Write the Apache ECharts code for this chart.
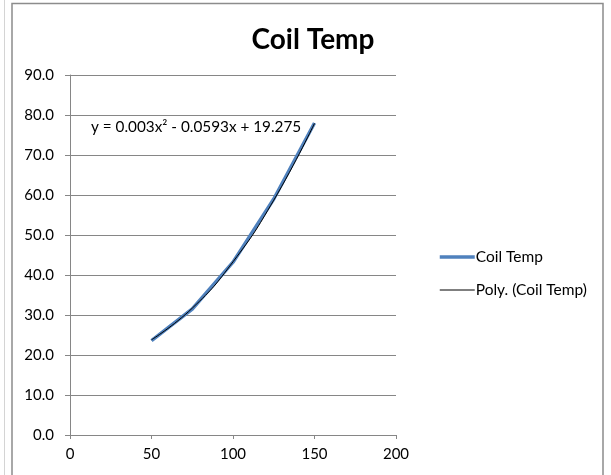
<!DOCTYPE html>
<html>
<head>
<meta charset="utf-8">
<script src="https://cdn.jsdelivr.net/npm/echarts@6/dist/echarts.min.js"></script>
<style>
html,body{margin:0;padding:0;background:#fff;}
#chart{width:611px;height:475px;}
</style>
</head>
<body>
<div id="chart"></div>
<script>
var titleText = 'Coil Temp';
var seriesName = 'Coil Temp';
var trendName = 'Poly. (Coil Temp)';
var equationText = 'y = 0.003x\u00B2 - 0.0593x + 19.275';
var xValues = [50, 75, 100, 125, 150];
var coilTemp = [23.6, 31.5, 43.2, 59.0, 78.0];
var trendValues = [23.8, 31.7, 43.3, 58.7, 77.9];

var FONT = 'Lato, "Open Sans", "DejaVu Sans", sans-serif';
var chart = echarts.init(document.getElementById('chart'));
function pairs(xs, ys){ return xs.map(function(x,i){ return [x, ys[i]]; }); }

chart.setOption({
  animation: false,
  backgroundColor: '#fff',
  title: {
    text: titleText,
    left: 308, top: 21, textAlign: 'center',
    textStyle: {fontFamily: FONT, fontSize: 28, fontWeight: 'bold', color: '#000'}
  },
  grid: {left: 70, right: 215, top: 75, bottom: 40},
  xAxis: {
    type: 'value', min: 0, max: 200, interval: 50,
    axisLine: {show: true, lineStyle: {color: '#868686'}},
    axisTick: {show: true, length: 4, lineStyle: {color: '#868686'}},
    splitLine: {show: false},
    axisLabel: {margin: 12, fontFamily: FONT, fontSize: 15, color: '#000'}
  },
  yAxis: {
    type: 'value', min: 0, max: 90, interval: 10,
    axisLine: {show: true, lineStyle: {color: '#868686'}},
    axisTick: {show: true, length: 5, lineStyle: {color: '#868686'}},
    splitLine: {show: true, lineStyle: {color: '#868686', width: 1}},
    axisLabel: {margin: 16, fontFamily: FONT, fontSize: 15, color: '#000',
      formatter: function(v){ return v.toFixed(1); }}
  },
  legend: {
    orient: 'vertical', left: 433, top: 244,
    itemWidth: 35, itemHeight: 14, itemGap: 17,
    itemStyle: {color: 'rgba(0,0,0,0)', borderColor: 'rgba(0,0,0,0)', borderWidth: 0},
    textStyle: {fontFamily: FONT, fontSize: 15.5, color: '#000', padding: [0,0,0,-4]},
    data: [
      {name: seriesName, lineStyle: {color: '#4F81BD', width: 3.5}},
      {name: trendName, lineStyle: {color: '#000', width: 1}}
    ]
  },
  series: [
    {
      name: seriesName, type: 'line', data: pairs(xValues, coilTemp),
      symbol: 'none', lineStyle: {color: '#4F81BD', width: 3.5}, itemStyle: {color: '#4F81BD'}
    },
    {
      name: trendName, type: 'line', data: pairs(xValues, trendValues), smooth: true,
      symbol: 'none', lineStyle: {color: '#000', width: 1}, itemStyle: {color: '#000'}
    }
  ],
  graphic: [
    {type: 'line', shape: {x1: 4.5, y1: 0, x2: 4.5, y2: 475}, style: {stroke: '#d4d4d4', lineWidth: 1}},
    {type: 'rect', shape: {x: 12, y: 3.5, width: 591, height: 480}, style: {fill: 'none', stroke: '#8c8c8c', lineWidth: 1.5}},
    {type: 'text', x: 91, y: 120, style: {text: equationText, fontFamily: FONT, fontSize: 15.3, fill: '#000'}}
  ]
});
</script>
</body>
</html>
